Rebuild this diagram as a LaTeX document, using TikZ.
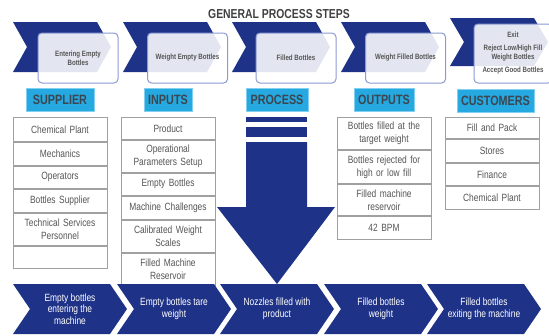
\documentclass[tikz,border=0pt]{standalone}
\usepackage{fontspec}
\newfontfamily\narrow[FakeStretch=0.8]{Liberation Sans}
\definecolor{navy}{RGB}{30,50,135}
\definecolor{cyanhead}{RGB}{38,168,224}
\definecolor{cyanedge}{RGB}{130,208,240}
\definecolor{boxedge}{RGB}{140,154,210}
\definecolor{textgray}{RGB}{85,85,85}
\definecolor{titlegray}{RGB}{64,64,64}
\definecolor{headtext}{RGB}{60,70,80}
\definecolor{cellgray}{RGB}{160,160,160}
\tikzset{
  topbox/.style={draw=boxedge, line width=1pt, rounded corners=4pt, fill=white, fill opacity=0.88, text opacity=1,
    minimum width=80pt, minimum height=50pt, align=center, inner sep=0pt,
    font=\narrow\bfseries\fontsize{7.7}{9}\selectfont, text=textgray},
  head/.style={fill=cyanhead, draw=cyanedge, line width=0.6pt, minimum height=23pt, inner sep=0pt,
    font=\narrow\bfseries\fontsize{13.5}{15}\selectfont, text=headtext},
  cell/.style={draw=cellgray, line width=0.9pt, minimum width=94pt, text width=88pt, align=center, inner sep=0pt,
    font=\narrow\fontsize{10.5}{13}\selectfont, text=textgray, anchor=north},
  btext/.style={align=center, text=white, inner sep=0pt, font=\narrow\fontsize{10.5}{11.5}\selectfont},
}
\begin{document}
\begin{tikzpicture}[x=1pt,y=-1pt]
\useasboundingbox (0,0) rectangle (549,335);
% title
\node[font=\narrow\bfseries\fontsize{13}{15}\selectfont, text=titlegray] (title) at (279,14.5) {GENERAL PROCESS STEPS};
% top chevrons
\foreach \x/\yt/\yb in {13/22/72, 123/22/72, 232/22/72, 341/22/72, 450/18/66} {
  \fill[navy] (\x,\yt) -- ++(84,0) -- (\x+98,{(\yt+\yb)/2}) -- (\x+84,\yb) -- (\x,\yb) -- (\x+14,{(\yt+\yb)/2}) -- cycle;
}
% top boxes
\node[topbox] (t1) at (78,58) {Entering Empty\\Bottles};
\node[topbox] (t2) at (187.5,58) {Weight Empty Bottles};
\node[topbox] (t3) at (296,58) {Filled Bottles};
\node[topbox] (t4) at (405.5,58) {Weight Filled Bottles};
\node[topbox, minimum width=78pt, minimum height=59pt] (t5) at (513,53.5) {Exit\\[4pt]Reject Low/High Fill\\Weight Bottles\\[4pt]Accept Good Bottles};
% headers
\node[head, minimum width=68pt] (h1) at (60,99.5) {SUPPLIER};
\node[head, minimum width=48pt] (h2) at (168,99.5) {INPUTS};
\node[head, minimum width=62pt] (h3) at (277,99.5) {PROCESS};
\node[head, minimum width=60pt] (h4) at (384,99.5) {OUTPUTS};
\node[head, minimum width=77pt] (h5) at (495.5,100.5) {CUSTOMERS};
% supplier table
\node[cell, minimum height=24pt] (s1) at (60,117) {Chemical Plant};
\node[cell, minimum height=23pt] (s2) at (s1.south) {Mechanics};
\node[cell, minimum height=22pt] (s3) at (s2.south) {Operators};
\node[cell, minimum height=23pt] (s4) at (s3.south) {Bottles Supplier};
\node[cell, minimum height=32pt] (s5) at (s4.south) {Technical Services\\Personnel};
\node[cell, minimum height=22pt] (s6) at (s5.south) {};
% inputs table
\node[cell, minimum height=22pt] (i1) at (168,117) {Product};
\node[cell, minimum height=32pt] (i2) at (i1.south) {Operational\\Parameters Setup};
\node[cell, minimum height=22pt] (i3) at (i2.south) {Empty Bottles};
\node[cell, minimum height=23pt] (i4) at (i3.south) {Machine Challenges};
\node[cell, minimum height=32pt] (i5) at (i4.south) {Calibrated Weight\\Scales};
\node[cell, minimum height=32pt] (i6) at (i5.south) {Filled Machine\\Reservoir};
% outputs table
\node[cell, minimum height=32pt] (o1) at (384,117) {Bottles filled at the\\target weight};
\node[cell, minimum height=33pt] (o2) at (o1.south) {Bottles rejected for\\high or low fill};
\node[cell, minimum height=31pt] (o3) at (o2.south) {Filled machine\\reservoir};
\node[cell, minimum height=23pt] (o4) at (o3.south) {42 BPM};
% customers table
\node[cell, minimum height=21pt] (c1) at (492,117) {Fill and Pack};
\node[cell, minimum height=23pt] (c2) at (c1.south) {Stores};
\node[cell, minimum height=22pt] (c3) at (c2.south) {Finance};
\node[cell, minimum height=23pt] (c4) at (c3.south) {Chemical Plant};
% big arrow
\fill[navy] (246,117) rectangle (307,122);
\fill[navy] (246,127) rectangle (307,137);
\fill[navy] (246,142) -- (307,142) -- (307,207) -- (335,207) -- (277,284) -- (217,207) -- (246,207) -- cycle;
% bottom chevrons
\foreach \x in {13,117,220,324,427} {
  \fill[navy] (\x,284) -- ++(97,0) -- (\x+114,309) -- (\x+97,334) -- (\x,334) -- (\x+17,309) -- cycle;
}
\node[btext] (b1) at (70,309) {Empty bottles\\entering the\\machine};
\node[btext] (b2) at (174,309) {Empty bottles tare\\weight};
\node[btext] (b3) at (277,309) {Nozzles filled with\\product};
\node[btext] (b4) at (381,309) {Filled bottles\\weight};
\node[btext] (b5) at (484,309) {Filled bottles\\exiting the machine};
\end{tikzpicture}
\end{document}
